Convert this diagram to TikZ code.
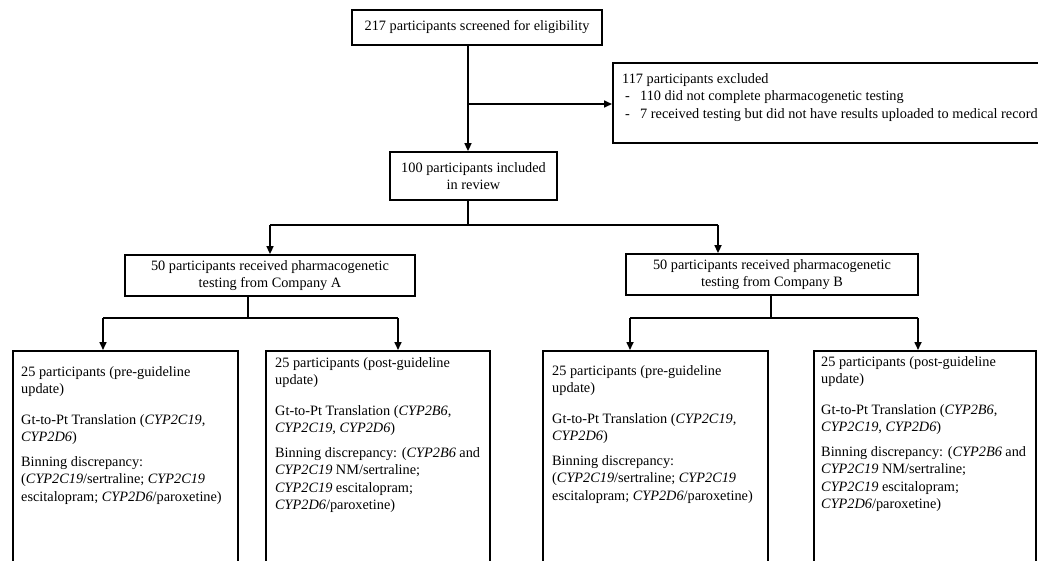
\documentclass[tikz,border=0pt]{standalone}
\usepackage{fontspec}
\setmainfont{Liberation Serif}
\usetikzlibrary{arrows.meta}
\newcommand{\diagfont}{\fontsize{14.3pt}{17.5pt}\selectfont}
\begin{document}
\begin{tikzpicture}[x=1pt,y=-1pt,
 box/.style={draw=black, line width=1.8pt, inner sep=0pt},
 ctext/.style={align=center, font=\diagfont},
 ltext/.style={align=left, font=\diagfont, inner sep=0pt, anchor=north west},
 conn/.style={line width=1.6pt},
 arr/.style={conn, -{Triangle[length=8pt,width=7pt]}}]
\useasboundingbox (0,0) rectangle (1038,560);
\clip (0,0) rectangle (1038,560);
\fill[white] (0,0) rectangle (1038,560);

% top
\node[box, ctext, minimum width=250pt, minimum height=35pt] (screen) at (477,27.5) {217 participants screened for eligibility};
\node[box, anchor=north west, minimum width=440pt, minimum height=80pt] (excl) at (612,62) {};
\node[ltext] (exclt) at (622,73) {117 participants excluded\\
\hspace*{3pt}\makebox[15pt][l]{-}110 did not complete pharmacogenetic testing\\
\hspace*{3pt}\makebox[15pt][l]{-}7 received testing but did not have results uploaded to medical records};
\node[box, ctext, minimum width=167pt, minimum height=48pt] (incl) at (473.5,176) {100 participants included\\in review};

\coordinate (split) at (468,104);
\draw[conn] (screen.south -| split) -- (split);
\draw[arr] (split) -- (split -| excl.west);
\draw[arr] (split) -- (incl.north -| split);

% companies
\node[box, ctext, minimum width=290pt, minimum height=41pt] (compA) at (270,275.5) {50 participants received pharmacogenetic\\testing from Company A};
\node[box, ctext, minimum width=292pt, minimum height=41pt] (compB) at (772,274.5) {50 participants received pharmacogenetic\\testing from Company B};

\coordinate (fork) at (468,225);
\coordinate (forkA) at (270,225);
\coordinate (forkB) at (718,225);
\draw[conn] (incl.south -| fork) -- (fork);
\draw[conn] (forkA) -- (forkB);
\draw[arr] (forkA) -- (compA.north);
\draw[arr] (forkB) -- (forkB |- compB.north);

% bottom boxes
\node[box, anchor=north west, minimum width=225pt, minimum height=230pt] (b1) at (12,350) {};
\node[box, anchor=north west, minimum width=224pt, minimum height=230pt] (b2) at (265,350) {};
\node[box, anchor=north west, minimum width=225pt, minimum height=230pt] (b3) at (542,350) {};
\node[box, anchor=north west, minimum width=222pt, minimum height=230pt] (b4) at (813,350) {};

\coordinate (stemA) at (248,318);
\coordinate (a1) at (103,318);
\coordinate (a2) at (398,318);
\draw[conn] (compA.south -| stemA) -- (stemA);
\draw[conn] (a1) -- (a2);
\draw[arr] (a1) -- (a1 |- b1.north);
\draw[arr] (a2) -- (a2 |- b2.north);

\coordinate (stemB) at (771,318);
\coordinate (a3) at (630,318);
\coordinate (a4) at (918,318);
\draw[conn] (compB.south -| stemB) -- (stemB);
\draw[conn] (a3) -- (a4);
\draw[arr] (a3) -- (a3 |- b3.north);
\draw[arr] (a4) -- (a4 |- b4.north);

\node[ltext] (b1t) at (21,366) {25 participants (pre-guideline\\update)\\[13pt]
Gt-to-Pt Translation (\textit{CYP2C19},\\\textit{CYP2D6})\\[7pt]
Binning discrepancy:\\(\textit{CYP2C19}/sertraline; \textit{CYP2C19}\\escitalopram; \textit{CYP2D6}/paroxetine)};
\node[ltext] (b2t) at (275,357) {25 participants (post-guideline\\update)\\[13pt]
Gt-to-Pt Translation (\textit{CYP2B6},\\\textit{CYP2C19}, \textit{CYP2D6})\\[7pt]
Binning discrepancy: (\textit{CYP2B6} and\\\textit{CYP2C19} NM/sertraline;\\\textit{CYP2C19} escitalopram;\\\textit{CYP2D6}/paroxetine)};
\node[ltext] (b3t) at (552,365) {25 participants (pre-guideline\\update)\\[13pt]
Gt-to-Pt Translation (\textit{CYP2C19},\\\textit{CYP2D6})\\[7pt]
Binning discrepancy:\\(\textit{CYP2C19}/sertraline; \textit{CYP2C19}\\escitalopram; \textit{CYP2D6}/paroxetine)};
\node[ltext] (b4t) at (821,356) {25 participants (post-guideline\\update)\\[13pt]
Gt-to-Pt Translation (\textit{CYP2B6},\\\textit{CYP2C19}, \textit{CYP2D6})\\[7pt]
Binning discrepancy: (\textit{CYP2B6} and\\\textit{CYP2C19} NM/sertraline;\\\textit{CYP2C19} escitalopram;\\\textit{CYP2D6}/paroxetine)};
\end{tikzpicture}
\end{document}
